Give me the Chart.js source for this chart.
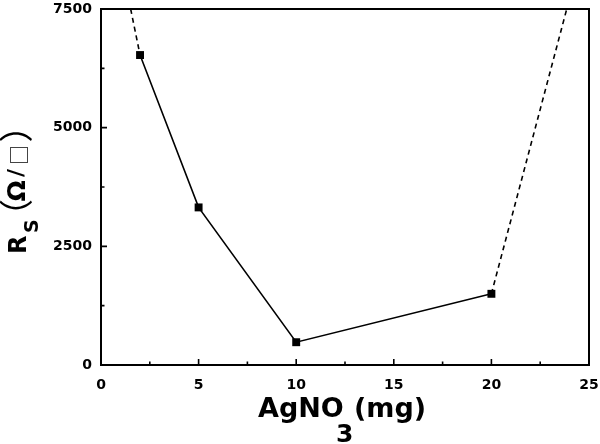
<!DOCTYPE html>
<html>
<head>
<meta charset="utf-8">
<script src="https://cdn.jsdelivr.net/npm/chart.js@4.4.1/dist/chart.umd.min.js"></script>
<style>
  html, body { margin: 0; padding: 0; background: #ffffff; }
  #wrap { width: 600px; height: 444px; }
</style>
</head>
<body>
<div id="wrap"><canvas id="c" width="600" height="444"></canvas></div>
<script>
// ---- data ----
const massAgNO3 = [2, 5, 10, 20];               // mg
const sheetResistance = [6530, 3320, 480, 1500]; // Ohm/sq
const dashLeftX = [1.52, 2];
const dashLeftY = [7500, 6530];
const dashRightX = [20, 23.86];
const dashRightY = [1500, 7500];
const xMajorTicks = [0, 5, 10, 15, 20, 25];
const xMinorTicks = [2.5, 7.5, 12.5, 17.5, 22.5];
const yMajorTicks = [0, 2500, 5000, 7500];
const yMinorTicks = [1250, 3750, 6250];

const toPts = (xs, ys) => xs.map((x, i) => ({ x: x, y: ys[i] }));

function drawGlyph(ctx, text, font, cx, cy, rotate) {
  ctx.save();
  ctx.font = font;
  ctx.translate(cx, cy);
  if (rotate) ctx.rotate(-Math.PI / 2);
  ctx.textAlign = 'left';
  ctx.textBaseline = 'alphabetic';
  const m = ctx.measureText(text);
  const dx = -(m.actualBoundingBoxRight - m.actualBoundingBoxLeft) / 2;
  const dy = (m.actualBoundingBoxAscent - m.actualBoundingBoxDescent) / 2;
  ctx.fillStyle = '#000';
  ctx.fillText(text, dx, dy);
  ctx.restore();
}

const framePlugin = {
  id: 'frame',
  afterDraw(chart) {
    const ctx = chart.ctx;
    const a = chart.chartArea;
    const xs = chart.scales.x, ys = chart.scales.y;
    ctx.save();
    ctx.strokeStyle = '#000';
    ctx.lineWidth = 2;
    ctx.strokeRect(a.left, a.top, a.right - a.left, a.bottom - a.top);
    ctx.lineWidth = 1.6;
    ctx.beginPath();
    xMajorTicks.forEach(v => { const p = xs.getPixelForValue(v); ctx.moveTo(p, a.bottom); ctx.lineTo(p, a.bottom - 6); });
    xMinorTicks.forEach(v => { const p = xs.getPixelForValue(v); ctx.moveTo(p, a.bottom); ctx.lineTo(p, a.bottom - 3.5); });
    yMajorTicks.forEach(v => { const p = ys.getPixelForValue(v); ctx.moveTo(a.left, p); ctx.lineTo(a.left + 6, p); });
    yMinorTicks.forEach(v => { const p = ys.getPixelForValue(v); ctx.moveTo(a.left, p); ctx.lineTo(a.left + 3.5, p); });
    ctx.stroke();

    // x-axis title: AgNO3(mg)
    ctx.fillStyle = '#000';
    ctx.textAlign = 'left';
    ctx.textBaseline = 'alphabetic';
    ctx.font = 'bold 27px "DejaVu Sans"';
    ctx.fillText('AgNO', 258, 417);
    ctx.font = 'bold 25px "DejaVu Sans"';
    ctx.fillText('3', 336, 442);
    ctx.font = 'bold 27px "DejaVu Sans"';
    ctx.fillText('(mg)', 354, 417);

    // y-axis title: RS(Ω/□), rotated
    drawGlyph(ctx, 'R', 'bold 24px "DejaVu Sans"', 16.5, 244, true);
    drawGlyph(ctx, 'S', 'bold 19px "DejaVu Sans"', 30.5, 226, true);
    drawGlyph(ctx, '（', '34px "Noto Sans CJK SC"', 15.5, 205, true);
    drawGlyph(ctx, 'Ω', 'bold 25px "DejaVu Sans"', 16, 191, true);
    drawGlyph(ctx, '/', 'bold 22px "DejaVu Sans"', 16, 172.5, true);
    drawGlyph(ctx, '□', '20px "Noto Sans CJK SC"', 18.5, 155, true);
    drawGlyph(ctx, '）', '34px "Noto Sans CJK SC"', 15.5, 136.5, true);
    ctx.restore();
  }
};

function fixScale(s, w, h) {
  if (w !== null) s.width = w;
  if (h !== null) s.height = h;
  s.paddingTop = 0; s.paddingBottom = 0; s.paddingLeft = 0; s.paddingRight = 0;
}

new Chart(document.getElementById('c'), {
  type: 'scatter',
  data: {
    datasets: [
      {
        data: toPts(massAgNO3, sheetResistance),
        showLine: true,
        borderColor: '#000',
        backgroundColor: '#000',
        borderWidth: 1.6,
        pointStyle: 'rect',
        pointRadius: 5.6,
        pointBorderWidth: 0,
        order: 0
      },
      {
        data: toPts(dashLeftX, dashLeftY),
        showLine: true,
        borderColor: '#000',
        borderWidth: 1.6,
        borderDash: [5, 4],
        pointRadius: 0,
        order: 1
      },
      {
        data: toPts(dashRightX, dashRightY),
        showLine: true,
        borderColor: '#000',
        borderWidth: 1.6,
        borderDash: [5, 4],
        pointRadius: 0,
        order: 1
      }
    ]
  },
  options: {
    responsive: false,
    animation: false,
    events: [],
    layout: { padding: { left: 0, right: 11, top: 9, bottom: 0 } },
    plugins: { legend: { display: false }, tooltip: { enabled: false } },
    scales: {
      x: {
        type: 'linear',
        min: 0, max: 25,
        afterFit: s => fixScale(s, null, 79),
        afterBuildTicks: s => { s.ticks = xMajorTicks.map(v => ({ value: v })); },
        grid: { display: false, drawTicks: false },
        border: { display: false },
        ticks: { color: '#000', padding: 12, callback: v => String(v), font: { family: 'DejaVu Sans', weight: 'bold', size: 14 } }
      },
      y: {
        type: 'linear',
        min: 0, max: 7500,
        afterFit: s => fixScale(s, 101, null),
        afterBuildTicks: s => { s.ticks = yMajorTicks.map(v => ({ value: v })); },
        grid: { display: false, drawTicks: false },
        border: { display: false },
        ticks: { color: '#000', padding: 9, callback: v => String(v), font: { family: 'DejaVu Sans', weight: 'bold', size: 14 } }
      }
    }
  },
  plugins: [framePlugin]
});
</script>
</body>
</html>
